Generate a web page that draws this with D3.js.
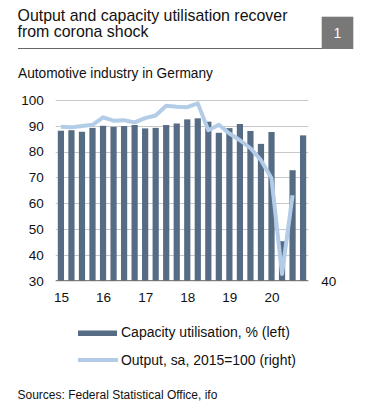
<!DOCTYPE html>
<html><head><meta charset="utf-8">
<script src="https://cdn.jsdelivr.net/npm/d3@7"></script>
<style>body{margin:0;background:#fff}svg{display:block}text{font-family:"Liberation Sans",Arial,sans-serif;fill:#111}</style>
</head><body><svg id="c" width="366" height="410"></svg>
<script>
const quarters = ["15Q1","15Q2","15Q3","15Q4","16Q1","16Q2","16Q3","16Q4","17Q1","17Q2","17Q3","17Q4","18Q1","18Q2","18Q3","18Q4","19Q1","19Q2","19Q3","19Q4","20Q1","20Q2","20Q3","20Q4"];
const capacity = [88.1,88.3,87.7,89.2,90.0,89.6,89.9,90.3,89.0,89.2,90.3,90.9,92.5,92.9,91.6,87.3,89.1,90.7,88.0,83.0,87.6,45.3,72.8,86.3];
const output = [99.6,99.4,99.9,100.4,103.3,102.0,102.2,101.3,103.0,104.0,107.8,107.4,107.2,108.7,98.3,100.4,97.0,94.4,91.3,86.7,79.7,42.6,73.1];
const leftTicks = [30,40,50,60,70,80,90,100];
const rightTicks = [40];
const yearLabels = ["15","16","17","18","19","20"];
const titleLines = ["Output and capacity utilisation recover","from corona shock"];

const svg = d3.select("#c");
const x0 = 55.7, x1 = 308.3, yTop = 100, yBot = 280.7;
const x = d3.scaleBand().domain(quarters).range([x0, x1]).paddingInner(0.41).paddingOuter(0.2);
const yL = d3.scaleLinear().domain([30,100]).range([yBot, yTop]);
const yR = d3.scaleLinear().domain([40,110]).range([yBot, yTop]);

function fit(sel, target){
  const n = sel.node(); const fs = parseFloat(n.style.fontSize);
  const w = n.getComputedTextLength();
  if (w > 0) sel.style("font-size", (fs*target/w).toFixed(2)+"px");
  return sel;
}

// header
const t1 = svg.append("text").attr("x",17.5).attr("y",20.7).style("font-size","14.5px").text(titleLines[0]);
fit(t1, 270);
svg.append("text").attr("x",17.5).attr("y",36.7).style("font-size",t1.style("font-size")).text(titleLines[1]);
svg.append("line").attr("x1",18).attr("x2",322).attr("y1",48.5).attr("y2",48.5).attr("stroke","#666").attr("stroke-width",1);
svg.append("rect").attr("x",321.7).attr("y",16.7).attr("width",31.6).attr("height",32.3).attr("fill","#787878");
svg.append("text").attr("x",337.5).attr("y",38).attr("text-anchor","middle").style("font-size","14px").style("fill","#fff").text("1");
fit(svg.append("text").attr("x",18).attr("y",78).style("font-size","13px").text("Automotive industry in Germany"), 195);

// grid
svg.append("g").selectAll("line").data(leftTicks.filter(t=>t>30)).join("line")
  .attr("x1",x0).attr("x2",x1).attr("y1",d=>Math.round(yL(d))+0.5).attr("y2",d=>Math.round(yL(d))+0.5)
  .attr("stroke","#c8c8c8").attr("stroke-width",1);

// bars
svg.append("g").selectAll("rect").data(quarters).join("rect")
  .attr("x",d=>x(d)).attr("width",x.bandwidth())
  .attr("y",(d,i)=>yL(capacity[i])).attr("height",(d,i)=>yBot-yL(capacity[i]))
  .attr("fill","#566c84");

// baseline
svg.append("line").attr("x1",x0).attr("x2",x1).attr("y1",yBot).attr("y2",yBot).attr("stroke","#666").attr("stroke-width",1);

// line
const line = d3.line().x((d,i)=>x(quarters[i])+x.bandwidth()/2).y(d=>yR(d));
svg.append("path").datum(output).attr("d",line).attr("fill","none")
  .attr("stroke","#b3cde8").attr("stroke-width",4).attr("stroke-linejoin","round");

// left axis
const gL = svg.append("g").attr("transform",`translate(${x0},0)`)
  .call(d3.axisLeft(yL).tickValues(leftTicks).tickSize(0).tickPadding(12));
gL.select(".domain").remove();
gL.selectAll("text").style("font-size","13.5px").style("font-family","Liberation Sans, Arial, sans-serif").attr("fill","#111");

// right axis
const gR = svg.append("g").attr("transform",`translate(${x1},0)`)
  .call(d3.axisRight(yR).tickValues(rightTicks).tickSize(0).tickPadding(13));
gR.select(".domain").remove();
gR.selectAll("text").style("font-size","13.5px").style("font-family","Liberation Sans, Arial, sans-serif").attr("fill","#111");

// x labels
svg.append("g").selectAll("text").data(yearLabels).join("text")
  .attr("x",d=>x(d+"Q1")+x.bandwidth()/2+0.5).attr("y",302).attr("text-anchor","middle")
  .style("font-size","13.5px").text(d=>d);

// legend
svg.append("rect").attr("x",78).attr("y",330.5).attr("width",39).attr("height",5.5).attr("fill","#566c84");
fit(svg.append("text").attr("x",121).attr("y",337).style("font-size","13px").text("Capacity utilisation, % (left)"), 169);
svg.append("line").attr("x1",78).attr("x2",118).attr("y1",360).attr("y2",360).attr("stroke","#b3cde8").attr("stroke-width",4);
fit(svg.append("text").attr("x",121).attr("y",364.5).style("font-size","13px").text("Output, sa, 2015=100 (right)"), 175);

fit(svg.append("text").attr("x",17.5).attr("y",399).style("font-size","11.5px").text("Sources: Federal Statistical Office, ifo"), 200);
</script></body></html>
